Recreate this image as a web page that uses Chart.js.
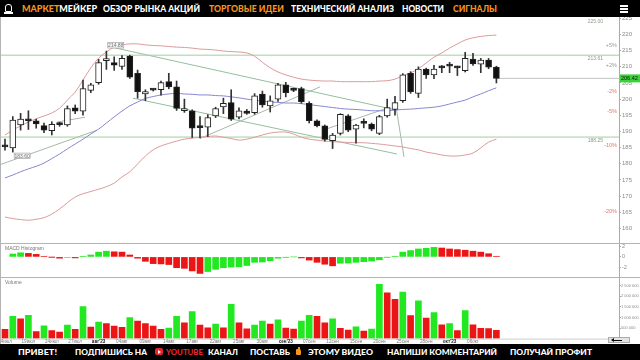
<!DOCTYPE html>
<html><head><meta charset="utf-8">
<script src="https://cdn.jsdelivr.net/npm/chart.js@4.4.0/dist/chart.umd.min.js"></script>
<style>
html,body{margin:0;padding:0;background:#fff;width:640px;height:360px;overflow:hidden;font-family:Lato,Roboto,"DejaVu Sans",sans-serif;}
#wrap{position:relative;width:640px;height:360px;}
canvas{position:absolute;left:0;}
.blk{position:absolute;left:0;width:640px;background:#000;}
.t{position:absolute;white-space:nowrap;font-weight:900;transform-origin:0 50%;line-height:1;}
.sep{position:absolute;left:0;width:640px;height:1px;background:#b4b4b4;}
.lab{position:absolute;font:5px "Liberation Sans",sans-serif;color:#777;white-space:nowrap;}
</style></head>
<body><div id="wrap">
<div class="blk" style="top:0;height:17px;"></div>
<div class="blk" style="top:344px;height:16px;"></div>
<div style="position:absolute;left:0;top:17px;width:1px;height:327px;background:#b4b4b4;"></div>
<canvas id="cMain" width="640" height="226" style="top:17px"></canvas>
<canvas id="cMacd" width="640" height="34" style="top:243px"></canvas>
<canvas id="cVol" width="640" height="67" style="top:277px"></canvas>
<div class="sep" style="top:243px"></div>
<div class="sep" style="top:277px"></div>
<div class="lab" style="left:5px;top:245px;">MACD Histogram</div>
<div class="lab" style="left:5px;top:279px;">Volume</div>
<div style="position:absolute;left:608px;top:337px;width:22px;height:6px;background:#e4e4e4;border:1px solid #aaa;box-sizing:border-box"></div>
<div style="position:absolute;left:613px;top:339.5px;width:9px;height:1.5px;background:#000"></div>
<div style="position:absolute;left:611px;top:338px;width:0;height:0;border-right:3px solid #000;border-top:2.2px solid transparent;border-bottom:2.2px solid transparent"></div>

<!-- header -->
<div style="position:absolute;left:5px;top:4px;width:7px;height:8px;border:1.2px solid #fff;border-radius:3px 3px 1px 1px;box-sizing:border-box"></div>
<div style="position:absolute;left:4px;top:12px;width:9px;height:1.5px;background:#fff"></div>
<div class="t" style="left:22px;top:4px;font-size:9px;" data-w="75"><span style="color:#f7941d">МАРКЕТ</span><span style="color:#fff">МЕЙКЕР</span></div>
<div class="t" style="left:103px;top:4px;font-size:9px;color:#fff" data-w="97">ОБЗОР РЫНКА АКЦИЙ</div>
<div class="t" style="left:209px;top:4px;font-size:9px;color:#f7941d" data-w="75">ТОРГОВЫЕ ИДЕИ</div>
<div class="t" style="left:291px;top:4px;font-size:9px;color:#fff" data-w="103">ТЕХНИЧЕСКИЙ АНАЛИЗ</div>
<div class="t" style="left:402px;top:4px;font-size:9px;color:#fff" data-w="42">НОВОСТИ</div>
<div class="t" style="left:453px;top:4px;font-size:9px;color:#f7941d" data-w="44">СИГНАЛЫ</div>
<div style="position:absolute;left:620px;top:5px;width:8px;height:1.5px;background:#fff"></div>
<div style="position:absolute;left:620px;top:8px;width:8px;height:1.5px;background:#fff"></div>
<div style="position:absolute;left:620px;top:11px;width:8px;height:1.5px;background:#fff"></div>

<!-- footer -->
<div class="t" style="left:18px;top:348px;font-size:8px;color:#fff" data-w="39">ПРИВЕТ!</div>
<div class="t" style="left:75px;top:348px;font-size:8px;color:#fff" data-w="72">ПОДПИШИСЬ НА</div>
<div style="position:absolute;left:155px;top:348px;width:8px;height:7px;background:#e8262a;border-radius:2px"></div>
<div style="position:absolute;left:158px;top:349.5px;width:0;height:0;border-left:3px solid #fff;border-top:2px solid transparent;border-bottom:2px solid transparent"></div>
<div class="t" style="left:166px;top:348px;font-size:8px;color:#e8262a" data-w="37">YOUTUBE</div>
<div class="t" style="left:208px;top:348px;font-size:8px;color:#fff" data-w="30">КАНАЛ</div>
<div class="t" style="left:250px;top:348px;font-size:8px;color:#fff" data-w="40">ПОСТАВЬ</div>
<div style="position:absolute;left:296px;top:349px;width:5px;height:6px;background:#f7941d;border-radius:1px 2px 1px 1px"></div>
<div style="position:absolute;left:298px;top:346.5px;width:2px;height:3px;background:#f7941d"></div>
<div class="t" style="left:308px;top:348px;font-size:8px;color:#fff" data-w="65">ЭТОМУ ВИДЕО</div>
<div class="t" style="left:387px;top:348px;font-size:8px;color:#fff" data-w="110">НАПИШИ КОММЕНТАРИЙ</div>
<div class="t" style="left:510px;top:348px;font-size:8px;color:#fff" data-w="82">ПОЛУЧАЙ ПРОФИТ</div>
</div>
<script>
// ---------- DATA ----------
const dates = ["14.07","17.07","18.07","19.07","20.07","21.07","24.07","25.07","26.07","27.07","28.07","31.07",
"01.08","02.08","03.08","04.08","07.08","08.08","09.08","10.08","11.08","14.08","15.08","16.08","17.08","18.08","21.08","22.08","23.08","24.08","25.08","28.08","29.08","30.08","31.08",
"01.09","04.09","05.09","06.09","07.09","08.09","11.09","12.09","13.09","14.09","15.09","18.09","19.09","20.09","21.09","22.09","25.09","26.09","27.09","28.09","29.09",
"02.10","03.10","04.10","05.10","06.10","09.10","10.10","11.10"];
const xTickIdx  = [1,4,7,10,13,16,19,22,25,28,31,34,37,40,43,46,49,52,55,58,61];
const xTickText = ["14июл","19июл","24июл","27июл","авг'23","04авг","09авг","14авг","17авг","22авг","25авг","30авг","сен'23","07сен","12сен","15сен","20сен","25сен","28сен","окт'23","06окт"];
const priceTicks = [160,165,170,175,180,185,190,195,200,205,210,215,220,225];

const open  = [185.5,184.9,192.0,193.9,193.3,191.8,190.2,192.4,192.0,197.3,196.3,202.7,205.1,211.9,211.3,210.1,213.3,208.0,201.6,203.0,202.9,205.4,203.8,196.4,196.4,191.7,191.3,194.8,197.6,198.9,194.4,196.3,195.8,201.6,197.9,200.0,204.4,203.1,203.3,198.7,193.3,191.7,187.1,189.4,194.8,190.7,192.6,192.3,189.4,194.8,196.8,199.5,208.0,201.8,209.3,207.5,209.9,210.4,209.9,208.8,212.4,210.8,212.1,209.9];
const high  = [187.6,194.6,195.6,196.4,193.8,192.6,193.0,192.8,197.9,198.2,205.9,204.9,212.3,214.88,213.1,213.5,213.6,209.0,202.9,203.2,205.6,208.0,205.6,200.0,196.7,194.6,195.2,197.5,200.3,202.9,197.3,196.8,201.7,202.5,201.0,204.9,205.2,203.4,203.7,199.2,193.6,192.0,189.4,195.5,195.2,192.2,193.9,192.6,195.0,200.0,200.9,207.9,208.5,210.0,209.6,210.5,210.4,211.4,210.2,214.5,214.2,212.6,212.6,210.2];
const low   = [184.2,183.60,190.4,190.6,191.0,189.6,188.9,191.6,191.6,195.5,195.0,202.0,204.6,209.2,208.9,209.2,206.4,200.3,199.5,202.5,201.2,203.2,196.5,195.9,188.1,188.0,188.4,194.3,195.5,193.4,193.9,195.3,195.3,197.5,196.0,199.3,200.7,202.3,198.7,192.6,191.4,187.0,184.7,188.9,189.9,186.4,191.1,190.2,189.0,194.4,195.0,199.0,201.8,200.5,206.4,206.3,208.2,208.2,207.3,208.4,210.4,208.2,209.4,205.0];
const close = [185.2,193.5,193.8,193.3,192.3,190.4,192.2,192.1,197.1,196.3,203.3,204.4,211.3,212.1,210.5,212.6,206.8,202.3,202.3,202.8,205.1,203.8,197.1,197.1,191.0,191.2,194.3,197.1,198.7,193.8,196.4,195.6,201.0,198.2,199.5,204.4,202.0,202.7,199.2,193.3,191.7,187.5,188.9,195.3,190.4,192.0,192.5,190.7,194.6,197.4,198.9,207.5,202.3,209.3,207.5,209.3,209.7,210.2,209.7,212.6,210.9,212.1,209.9,206.42];

const bbUpper  = [188.9,190.4,191.7,192.9,193.9,194.8,195.7,197.2,199.7,202.2,205.9,209.7,212.7,214.6,216.1,216.8,217.1,217.1,216.8,216.6,216.5,216.3,216.1,216.0,215.8,215.5,215.4,215.2,214.9,214.7,214.6,214.3,213.3,211.4,209.7,208.4,207.5,206.8,206.2,205.9,205.7,205.6,205.6,205.4,205.4,205.4,205.4,205.4,205.6,205.7,206.2,207.2,208.1,209.4,211.2,213.0,214.3,215.8,217.1,218.3,219.0,219.4,219.7,219.8];
const bbMiddle = [175.6,176.5,177.5,178.4,179.2,180.2,181.6,183.0,184.6,186.1,187.6,189.2,190.7,192.6,194.5,196.3,197.9,199.1,200.2,200.8,201.3,201.6,201.8,201.6,201.5,201.3,201.3,201.1,201.0,200.7,200.4,200.0,199.7,199.4,199.1,199.0,198.8,198.8,198.6,198.3,198.0,197.7,197.4,197.1,196.9,196.8,196.6,196.4,196.4,196.4,196.6,196.8,196.9,197.1,197.3,197.5,197.9,198.5,199.1,199.7,200.7,201.6,202.6,203.5];
const bbLower  = [163.5,163.0,162.7,162.5,162.8,163.3,164.4,166.0,167.9,169.7,170.7,171.4,172.1,172.9,174.0,175.9,177.5,179.9,182.4,184.3,185.5,186.3,187.0,187.6,187.9,188.2,188.4,188.6,188.2,187.8,187.3,187.6,188.2,188.9,189.5,189.8,189.8,189.2,188.2,187.6,187.3,187.0,186.8,186.7,186.6,186.5,186.5,186.3,186.1,185.8,185.5,185.2,184.7,184.3,183.6,183.2,182.7,182.4,182.4,182.7,183.3,184.9,186.7,187.6];

const macdHist = [null,0.56,0.80,0.68,0.49,0.12,-0.02,-0.25,-0.10,-0.19,0.12,0.37,0.93,1.11,0.99,0.93,0.37,-0.25,-0.86,-1.30,-1.36,-1.48,-2.10,-2.22,-2.72,-3.21,-2.84,-2.41,-2.10,-1.98,-1.91,-1.67,-1.05,-0.99,-0.74,-0.25,-0.06,0.0,-0.19,-0.62,-1.05,-1.42,-1.73,-1.23,-1.20,-1.05,-0.93,-0.80,-0.56,-0.05,0.12,0.93,1.23,1.54,1.67,1.85,1.73,1.54,1.42,1.30,1.11,0.93,0.62,0.12];
const macdUp = [0,1,1,0,0,0,0,0,1,0,1,1,1,1,0,0,0,0,0,0,0,0,0,0,0,0,1,1,1,1,1,1,1,1,1,1,1,1,0,0,0,0,0,1,1,1,1,1,1,1,1,1,1,1,1,1,0,0,0,0,0,0,0,0];
const macdTicks = [-2, 0, 2];

const volume = [435,1056,932,1100,326,606,373,311,637,435,1506,544,776,714,590,528,994,823,714,590,435,497,1056,745,1273,637,512,683,512,1615,745,466,637,823,683,885,497,450,823,1100,1050,745,932,481,404,559,357,450,2560,2160,1850,2200,1087,1786,963,1227,652,714,373,1320,652,481,470,388].map(v=>v*1000);
const volUp = [0,1,0,1,0,1,0,0,1,0,1,0,1,0,0,0,1,0,0,0,0,1,1,0,1,0,0,1,0,1,0,0,1,1,0,1,0,0,1,1,0,0,1,0,0,1,0,1,1,0,0,1,0,1,0,1,0,1,0,1,0,0,0,0];
const volTicks = [500000, 1000000, 1500000, 2000000, 2500000];

const levelValues = [213.61, 188.25];
const levelText   = ["213.61", "188.25"];
const topLevelValue = 225.00;
const pctLevels = [5, 2, -2, -5, -10, -20];
const extremeIdx = [15.2, 3.2];
const extremeVal = [214.88, 183.60];
// trend lines: [x1, price1, x2, price2]
const trendLines = [
  [14.85,216.0,51.0,196.7],
  [17.4,200.3,51.26,183.0],
  [26.0,187.8,41.4,203.8],
  [7.67,192.9,11.26,194.4],
  [0.36,179.7,12.8,190.4],
  [51.19,196.9,52.15,182.1],
  [41.77,190.4,50.36,197.5]
];

// ---------- helpers ----------
const X_MIN = 0.487, X_MAX = 79.72;
const Y_MIN = 155.45, Y_MAX = 225.43;
const GREEN = '#21e821', RED = '#ec1515';
const idx = close.map((_,k)=>k+1);

function xAxis(){
  return {type:'linear', min:X_MIN, max:X_MAX, offset:false, display:false};
}
function yAxis(min,max,cb,fontSize,fixedTicks,pad){
  return {position:'right', min:min, max:max,
    ticks:{autoSkip:false, font:{family:'Liberation Sans', size:fontSize||6}, color:'#8a8a8a', padding:(pad===undefined?1:pad), callback:cb},
    grid:{display:true, drawOnChartArea:false, tickLength:2, color:'#aaa'},
    border:{display:true, color:'#aaa'},
    afterBuildTicks(axis){ axis.ticks = fixedTicks.map(v=>({value:v})); },
    afterFit(s){ s.width = 21; s.paddingTop = 0; s.paddingBottom = 0; }
  };
}
function baseOpts(padBottom){
  return {responsive:false, animation:false, devicePixelRatio:1,
    plugins:{legend:{display:false}, tooltip:{enabled:false}},
    layout:{padding:{left:1,right:0,top:0,bottom:padBottom||0}}};
}

// ---------- main chart ----------
const annot = {
  id:'annot',
  afterDraw(chart){
    const {ctx, scales:{x,y}} = chart;
    ctx.save();
    ctx.font = '5px "Liberation Sans"';
    ctx.fillStyle = '#8a9a8a';
    ctx.textAlign = 'right';
    ctx.textBaseline = 'top';
    ctx.fillText(topLevelValue.toFixed(2), 603, y.getPixelForValue(topLevelValue)+1.2);
    levelValues.forEach((v,k)=>{ ctx.fillText(levelText[k], 603, y.getPixelForValue(v)+1.2); });
    const last = close[close.length-1];
    ctx.font = '5.5px "Liberation Sans"';
    ctx.textBaseline = 'middle';
    pctLevels.forEach(p=>{
      ctx.fillStyle = p>0 ? '#9a9a9a' : '#e07a6a';
      ctx.fillText((p>0?'+':'')+p+'%', 617, y.getPixelForValue(last*(1+p/100)));
    });
    ctx.font = '5px "Liberation Sans"';
    ctx.textAlign = 'center';
    extremeVal.forEach((v,k)=>{
      const px = x.getPixelForValue(extremeIdx[k]);
      const py = y.getPixelForValue(v);
      const bw = 16, bh = 5.5;
      const top = k===0 ? py-8.5 : py+1;
      ctx.fillStyle = '#f4f4f4'; ctx.strokeStyle = '#9a9a9a'; ctx.lineWidth = 0.6;
      ctx.fillRect(px-bw/2, top, bw, bh); ctx.strokeRect(px-bw/2, top, bw, bh);
      ctx.fillStyle = '#777';
      ctx.fillText(v.toFixed(2), px, top+bh/2+0.3);
    });
    const cy = y.getPixelForValue(last);
    ctx.fillStyle = '#3ad33a';
    ctx.fillRect(620, cy-4, 20, 8);
    ctx.fillStyle = '#111';
    ctx.textAlign = 'left';
    ctx.font = '5.5px "Liberation Sans"';
    ctx.fillText(last.toFixed(2), 621, cy+0.3);
    ctx.restore();
  }
};

const lineDs = (data, color, order, tension) => ({type:'line', data:data, borderColor:color, borderWidth:1, pointRadius:0, tension:tension||0, order:order, fill:false});

const mainDatasets = [
  {type:'bar', data:idx.map((i,k)=>({x:i, y:[low[k], high[k]]})), backgroundColor:'#333', barThickness:1, grouped:false, order:2, borderWidth:0},
  {type:'bar', data:idx.map((i,k)=>({x:i, y:[Math.min(open[k],close[k]), Math.max(open[k],close[k])]})),
    backgroundColor:idx.map((i,k)=>close[k]>=open[k]?'#ffffff':'#111111'), borderColor:'#222', borderWidth:1, borderSkipped:false,
    barThickness:6, grouped:false, order:1, minBarLength:2},
  lineDs(idx.map((i,k)=>({x:i,y:bbUpper[k]})), '#dc9a9a', 6, 0.35),
  lineDs(idx.map((i,k)=>({x:i,y:bbMiddle[k]})), '#8686d2', 6, 0.35),
  lineDs(idx.map((i,k)=>({x:i,y:bbLower[k]})), '#dc9a9a', 6, 0.35),
  lineDs([{x:X_MIN,y:levelValues[0]},{x:X_MAX,y:levelValues[0]}], '#9fcf9f', 7),
  lineDs([{x:X_MIN,y:levelValues[1]},{x:X_MAX,y:levelValues[1]}], '#9fcf9f', 7),
  lineDs([{x:64,y:close[63]},{x:X_MAX,y:close[63]}], '#c4c4c4', 7)
];
trendLines.forEach((t,k)=>{
  mainDatasets.push(lineDs([{x:t[0],y:t[1]},{x:t[2],y:t[3]}], k<2 ? '#94bf9e' : '#a6b8a8', 7));
});

new Chart(document.getElementById('cMain'), {
  type:'bar',
  data:{datasets:mainDatasets},
  options:Object.assign(baseOpts(0), {
    scales:{ x:xAxis(), y:yAxis(Y_MIN, Y_MAX, v=>String(v), 6, priceTicks) }
  }),
  plugins:[annot]
});

// ---------- MACD ----------
new Chart(document.getElementById('cMacd'), {
  type:'bar',
  data:{datasets:[{data:idx.map((i,k)=>({x:i,y:macdHist[k]})), backgroundColor:idx.map((i,k)=>macdUp[k]?GREEN:RED), barThickness:6, borderWidth:0}]},
  options:Object.assign(baseOpts(0), {
    scales:{ x:xAxis(), y:yAxis(-3.9, 2.7, v=>String(v), 5.5, macdTicks) }
  })
});

// ---------- Volume ----------
function fmtVol(v){ return String(v).replace(/\B(?=(\d{3})+(?!\d))/g,' '); }
const dateLabels = {
  id:'dateLabels',
  afterDraw(chart){
    const {ctx, scales:{x}, chartArea:ca} = chart;
    ctx.save();
    ctx.strokeStyle = '#cfcfcf'; ctx.lineWidth = 1;
    ctx.beginPath(); ctx.moveTo(ca.left, ca.bottom+0.5); ctx.lineTo(ca.right, ca.bottom+0.5); ctx.stroke();
    ctx.textAlign = 'center'; ctx.textBaseline = 'top';
    xTickIdx.forEach((v,k)=>{
      const month = xTickText[k].indexOf("'")>=0;
      ctx.font = (month?'bold ':'')+'4.6px "Liberation Sans"';
      ctx.fillStyle = month ? '#222' : '#7a7a7a';
      ctx.fillText(xTickText[k], x.getPixelForValue(v), ca.bottom+1);
    });
    ctx.restore();
  }
};
new Chart(document.getElementById('cVol'), {
  type:'bar',
  data:{datasets:[{data:idx.map((i,k)=>({x:i,y:volume[k]})), backgroundColor:idx.map((i,k)=>volUp[k]?GREEN:RED), barThickness:6, borderWidth:0}]},
  options:Object.assign(baseOpts(5.4), {
    scales:{ x:xAxis(), y:yAxis(0, 2906000, fmtVol, 4, volTicks, 0) }
  }),
  plugins:[dateLabels]
});

// ---------- fit header/footer text widths ----------
function fit(){
  document.querySelectorAll('.t[data-w]').forEach(el=>{
    el.style.transform='none';
    const w = el.getBoundingClientRect().width;
    const target = parseFloat(el.dataset.w);
    if(w>0) el.style.transform = 'scaleX('+(target/w)+')';
  });
}
fit();
if(document.fonts && document.fonts.ready) document.fonts.ready.then(fit);
</script>
</body></html>
